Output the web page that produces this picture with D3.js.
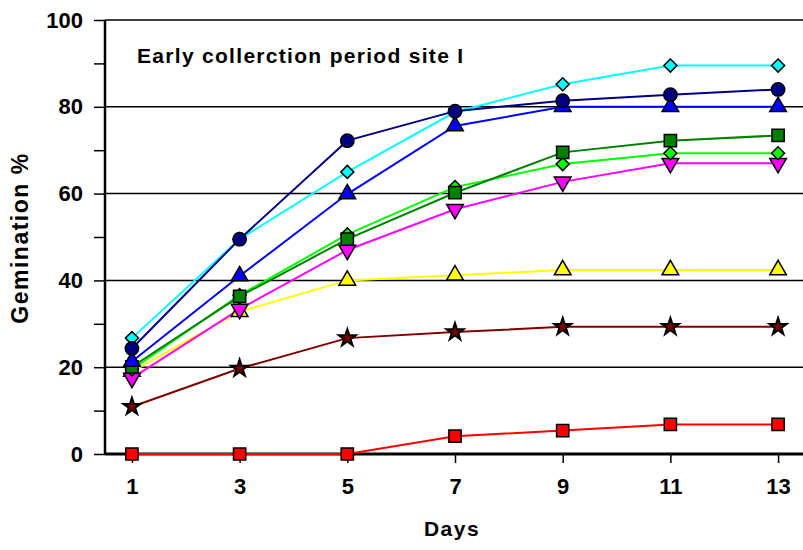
<!DOCTYPE html>
<html>
<head>
<meta charset="utf-8">
<script src="https://cdn.jsdelivr.net/npm/d3@7"></script>
<style>
  body { margin: 0; background: #fff; }
  text { font-family: "Liberation Sans", Arial, sans-serif; font-weight: bold; fill: #000; }
</style>
</head>
<body>
<svg></svg>
<script>
window.onload = () => {

  const width = 803;
  const height = 550;

  const days = [1, 3, 5, 7, 9, 11, 13];
  const yTicks = [0, 20, 40, 60, 80, 100];

  const redSquare = [0, 0, 0, 4.1, 5.4, 6.8, 6.8];
  const brownStar = [10.9, 19.7, 26.7, 28.1, 29.3, 29.3, 29.3];
  const yellowTriangle = [19.0, 32.8, 40.0, 41.2, 42.4, 42.4, 42.4];
  const magentaTriangle = [17.5, 33.4, 47.0, 56.4, 62.7, 67.0, 67.0];
  const limeDiamond = [19.5, 36.6, 50.6, 61.5, 66.8, 69.3, 69.3];
  const greenSquare = [20.1, 36.3, 49.5, 60.2, 69.5, 72.2, 73.4];
  const blueTriangle = [21.3, 41.0, 59.9, 75.6, 80.0, 80.0, 80.0];
  const cyanDiamond = [26.7, 49.5, 65.0, 78.8, 85.2, 89.5, 89.5];
  const navyCircle = [24.3, 49.5, 72.2, 79.0, 81.4, 82.8, 84.0];

  const series = [
    {values: redSquare, color: '#ff0000', shape: 'square'},
    {values: brownStar, color: '#800000', shape: 'star'},
    {values: yellowTriangle, color: '#ffff00', shape: 'triangle'},
    {values: magentaTriangle, color: '#ff00ff', shape: 'triangleDown'},
    {values: limeDiamond, color: '#00ff00', shape: 'diamond'},
    {values: greenSquare, color: '#008000', shape: 'square'},
    {values: blueTriangle, color: '#0000ff', shape: 'triangle'},
    {values: cyanDiamond, color: '#00ffff', shape: 'diamond'},
    {values: navyCircle, color: '#000080', shape: 'circle'}
  ];

  const svg = d3.select('svg').attr('width', width).attr('height', height);

  const xScale = d3.scaleLinear().domain([0.5, 13.5]).range([105, 805]);
  const yScale = d3.scaleLinear().domain([0, 100]).range([454, 20]);

  // horizontal gridlines
  svg.append('g')
    .selectAll('line')
    .data(yTicks.filter(d => d > 0))
    .join('line')
    .attr('x1', 105).attr('x2', width)
    .attr('y1', d => yScale(d)).attr('y2', d => yScale(d))
    .attr('stroke', '#000').attr('stroke-width', 1.5);

  // y axis, minor ticks every 10
  const yAxis = svg.append('g')
    .attr('transform', 'translate(105,0)')
    .call(d3.axisLeft(yScale).tickValues(d3.range(0, 101, 10)).tickSize(11).tickPadding(11)
      .tickFormat(d => d % 20 === 0 ? d : ''));
  yAxis.select('.domain').attr('stroke-width', 2.5).attr('d', 'M0,' + yScale(100) + 'V' + yScale(0));
  yAxis.selectAll('line').attr('stroke-width', 1.5);
  yAxis.selectAll('text').style('font-size', '22px');

  // x axis
  const xAxis = svg.append('g')
    .attr('transform', 'translate(0,' + yScale(0) + ')')
    .call(d3.axisBottom(xScale).tickValues(days).tickSize(9).tickPadding(15).tickFormat(d3.format('d')));
  xAxis.select('.domain').attr('stroke-width', 3).attr('d', 'M105,0H' + width);
  xAxis.selectAll('line').attr('stroke-width', 1.5);
  xAxis.selectAll('text').style('font-size', '22px');

  const line = d3.line().x((d, i) => xScale(days[i])).y(d => yScale(d));

  const shapes = {
    square: d3.symbolSquare,
    star: d3.symbolStar,
    triangle: d3.symbolTriangle,
    triangleDown: d3.symbolTriangle,
    diamond: d3.symbolSquare,
    circle: d3.symbolCircle
  };
  const sizes = {square: 150, star: 90, triangle: 120, triangleDown: 120, diamond: 85, circle: 140};
  const turns = {triangleDown: ' rotate(180)', diamond: ' rotate(45)'};

  series.forEach(s => {
    svg.append('path')
      .datum(s.values)
      .attr('fill', 'none')
      .attr('stroke', s.color)
      .attr('stroke-width', 2)
      .attr('d', line);
  });

  series.forEach(s => {
    const sym = d3.symbol().type(shapes[s.shape]).size(sizes[s.shape]);
    svg.append('g')
      .selectAll('path')
      .data(s.values)
      .join('path')
      .attr('transform', (d, i) => 'translate(' + xScale(days[i]) + ',' + yScale(d) + ')' + (turns[s.shape] || ''))
      .attr('d', sym)
      .attr('fill', s.color)
      .attr('stroke', '#000')
      .attr('stroke-width', s.shape === 'star' ? 2 : 1.5);
  });

  svg.append('text')
    .attr('x', 137).attr('y', 63)
    .style('font-size', '21px')
    .style('letter-spacing', '1.3px')
    .text('Early collerction period site I');

  svg.append('text')
    .attr('x', 452).attr('y', 536)
    .attr('text-anchor', 'middle')
    .style('font-size', '21px')
    .style('letter-spacing', '1.5px')
    .text('Days');

  svg.append('text')
    .attr('transform', 'translate(28,238) rotate(-90)')
    .attr('text-anchor', 'middle')
    .style('font-size', '23px')
    .style('letter-spacing', '1.5px')
    .text('Gemination %');
};
</script>
</body>
</html>
